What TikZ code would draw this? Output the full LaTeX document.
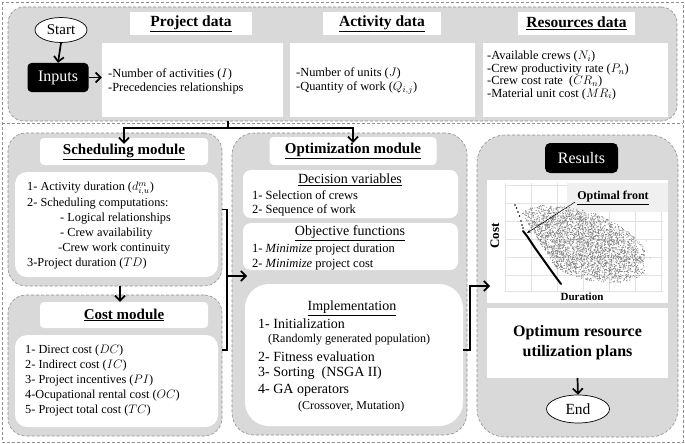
\documentclass[tikz,border=0pt]{standalone}
\usepackage{fix-cm}
\usepackage{fontspec}
\setmainfont{Liberation Serif}
\usetikzlibrary{shapes.geometric,arrows.meta,calc}
\definecolor{panelc}{HTML}{D9D9D9}
\definecolor{dashc}{HTML}{8E8E8E}
\definecolor{labelc}{HTML}{F0F0F0}
\definecolor{gridc}{HTML}{E2E2E2}
\definecolor{dotc}{HTML}{7A7A7A}
\begin{document}
\begin{tikzpicture}[x=1pt,y=-1pt,
  frame/.style={draw=dashc, line width=0.6pt, dash pattern=on 3pt off 2pt},
  panelbox/.style={frame, fill=panelc, rectangle, inner sep=0pt},
  wbox/.style={fill=white, draw=none, rectangle, inner sep=0pt},
  txt/.style={inner sep=0pt, align=left, anchor=west},
  lw/.style={line width=1.7pt},
  conn/.style={line width=1.7pt, -{Straight Barb[length=5pt,width=10pt]}},
  ttl/.style={font=\fontsize{15.5}{18}\selectfont\bfseries, inner sep=0pt},
  mttl/.style={font=\fontsize{15}{18}\selectfont\bfseries, inner sep=0pt},
]
\useasboundingbox (0,0) rectangle (685,444);
% outer frames
\draw[frame] (2,2) rectangle (683,442);
\draw[frame] (2,123) -- (683,123);

% ---------- top section ----------
\node[panelbox, rounded corners=16pt, minimum width=669pt, minimum height=114pt] (top) at (342.5,64) {};
\node[draw=black, line width=0.7pt, fill=white, ellipse, minimum width=52pt, minimum height=25pt, inner sep=0pt, font=\fontsize{15}{18}\selectfont] (start) at (61,30) {Start};
\node[fill=black, rounded corners=4pt, minimum width=61pt, minimum height=29pt, inner sep=0pt, text=white, font=\fontsize{16}{18}\selectfont] (inputs) at (58,77.5) {Inputs};

\node[wbox, minimum width=122pt, minimum height=23pt] (projT) at (191,23.5) {};
\node[ttl] (projTt) at (projT) {\underline{Project data}};
\node[wbox, minimum width=181pt, minimum height=74pt] (projC) at (192.5,80) {};
\node[txt, font=\fontsize{12.4}{14}\selectfont] (projCt) at (108,81) {-Number of activities ($I$)\\-Precedencies relationships};

\node[wbox, minimum width=118pt, minimum height=23pt] (actT) at (382,23.5) {};
\node[ttl] (actTt) at (actT) {\underline{Activity data}};
\node[wbox, minimum width=185pt, minimum height=74pt] (actC) at (382.5,80) {};
\node[txt, font=\fontsize{12.4}{14}\selectfont] (actCt) at (296,81) {-Number of units ($J$)\\-Quantity of work ($Q_{i,j}$)};

\node[wbox, minimum width=117pt, minimum height=23pt] (resT) at (576.5,23.5) {};
\node[ttl] (resTt) at (resT) {\underline{Resources data}};
\node[wbox, minimum width=185pt, minimum height=74pt] (resC) at (575.5,80) {};
\node[txt, font=\fontsize{12.4}{12.4}\selectfont] (resCt) at (487,75.5) {-Available crews ($N_i$)\\-Crew productivity rate ($P_n$)\\-Crew cost rate~ ($CR_n$)\\-Material unit cost ($MR_i$)};

\draw[conn] (start.south) -- (inputs.north);
\draw[conn] (inputs.east) -- (inputs.east -| projC.west);

% ---------- scheduling module ----------
\node[panelbox, rounded corners=18pt, minimum width=214pt, minimum height=153pt] (sched) at (115,209.5) {};
\node[wbox, rounded corners=4pt, minimum width=168pt, minimum height=27pt] (schedT) at (124,151.5) {};
\node[mttl] (schedTt) at (schedT) {\underline{Scheduling module}};
\node[wbox, rounded corners=12pt, minimum width=203pt, minimum height=105pt] (schedC) at (116.5,224.5) {};
\node[txt, font=\fontsize{12.3}{15}\selectfont] (schedCt) at (27,225.5) {1- Activity duration ($d^{m}_{i,u}$)\\[1pt]2- Scheduling computations:\\\hspace*{33pt}- Logical relationships\\\hspace*{33pt}- Crew availability\\\hspace*{31pt}-Crew work continuity\\3-Project duration ($TD$)};

% ---------- cost module ----------
\node[panelbox, rounded corners=18pt, minimum width=214pt, minimum height=141pt] (cost) at (115,365.5) {};
\node[wbox, rounded corners=4pt, minimum width=168pt, minimum height=26pt] (costT) at (124,315) {};
\node[mttl] (costTt) at (costT) {\underline{Cost module}};
\node[wbox, rounded corners=12pt, minimum width=203pt, minimum height=92pt] (costC) at (116.5,381) {};
\node[txt, font=\fontsize{12.3}{15}\selectfont] (costCt) at (25,381) {1- Direct cost ($DC$)\\2- Indirect cost ($IC$)\\3- Project incentives ($PI$)\\4-Ocupational rental cost ($OC$)\\5- Project total cost ($TC$)};

% ---------- optimization module ----------
\node[panelbox, rounded corners=22pt, minimum width=235pt, minimum height=302pt] (opt) at (349.5,284) {};
\node[wbox, rounded corners=4pt, minimum width=167pt, minimum height=28pt] (optT) at (353,151) {};
\node[mttl] (optTt) at (optT) {\underline{Optimization module}};
\node[wbox, rounded corners=8pt, minimum width=215pt, minimum height=48pt] (dec) at (350.5,194) {};
\node[inner sep=0pt, font=\fontsize{14}{16}\selectfont] (decT) at (350,180) {\underline{Decision variables}};
\node[txt, font=\fontsize{12.5}{14}\selectfont] (decTx) at (252,203) {1- Selection of crews\\2- Sequence of work};
\node[wbox, rounded corners=8pt, minimum width=215pt, minimum height=47pt] (obj) at (350.5,246.5) {};
\node[inner sep=0pt, font=\fontsize{14}{16}\selectfont] (objT) at (350,233) {\underline{Objective functions}};
\node[txt, font=\fontsize{12.5}{15}\selectfont] (objTx) at (252,256.5) {1- \textit{Minimize} project duration\\2- \textit{Minimize} project cost};
\node[wbox, rounded corners=24pt, minimum width=218pt, minimum height=142pt] (impl) at (354,355) {};
\node[inner sep=0pt, font=\fontsize{14}{16}\selectfont] (implT) at (352,308) {\underline{Implementation}};
\node[txt, font=\fontsize{14}{16}\selectfont] (im1) at (258,324) {1- Initialization};
\node[txt, font=\fontsize{12}{14}\selectfont] (im1b) at (268,340) {(Randomly generated population)};
\node[txt, font=\fontsize{14}{16}\selectfont] (im2) at (258,357) {2- Fitness evaluation};
\node[txt, font=\fontsize{14}{16}\selectfont] (im3) at (258,373) {3- Sorting~ (NSGA II)};
\node[txt, font=\fontsize{14}{16}\selectfont] (im4) at (258,390) {4- GA operators};
\node[txt, font=\fontsize{12}{14}\selectfont] (im4b) at (298,407) {(Crossover, Mutation)};

% ---------- results ----------
\node[panelbox, rounded corners=28pt, minimum width=201pt, minimum height=302pt] (res) at (577.5,286) {};
\node[fill=black, rounded corners=5pt, minimum width=73pt, minimum height=30pt, inner sep=0pt, text=white, font=\fontsize{16}{18}\selectfont] (results) at (581.5,158) {Results};
\node[wbox, minimum width=181pt, minimum height=123pt] (chart) at (577.5,241.5) {};
% grid
\foreach \gx in {505,531,557,583,609,635,661} \draw[gridc, line width=0.4pt] (\gx,183) -- (\gx,291);
\foreach \gy in {185,203,221,239,257,275,291} \draw[gridc, line width=0.4pt] (505,\gy) -- (663,\gy);
\fill[labelc] (567,183) rectangle (668,212);
% cloud of solutions
\pgfmathsetseed{11}
\foreach \i in {1,...,6500}{
  \pgfmathsetmacro\px{515+130*rnd}
  \pgfmathsetmacro\py{203+84*rnd}
  \pgfmathsetmacro\du{(\px-582)*0.94+(\py-244)*0.342}
  \pgfmathsetmacro\dv{-(\px-582)*0.342+(\py-244)*0.94}
  \pgfmathsetmacro\rr{(\du/70)^2+(\dv/33)^2}
  \pgfmathsetmacro\ok{(\rr<1)&&(\rr<0.45+rnd)&&((\px-517)-(\py-207)*0.6>1.5)}
  \ifdim\ok pt>0.5pt \fill[dotc] (\px,\py) circle (0.5pt);\fi
}
\foreach \ox/\oy in {643/250,637/262,650/258,628/266,646/241} \fill[dotc] (\ox,\oy) circle (0.5pt);
% optimal front
\foreach \fx/\fy in {515/205,516.5/208,518/212,519.5/216,521/221,522/225,523/228} \fill[black] (\fx,\fy) circle (0.9pt);
\draw[black, line width=2pt, line cap=round] (523,231) -- (527,236) -- (531,242) -- (535,248) -- (540,255) -- (545,262) -- (550,269) -- (555,276) -- (561,284);
\node[inner sep=0pt, font=\fontsize{12}{14}\selectfont\bfseries] (front) at (613,198) {\underline{Optimal front}};
\coordinate (fronttip) at (527,233);
\draw[line width=0.5pt, -{Stealth[length=4pt,width=3pt]}] (front.west) ++(-2,4) -- (fronttip);
\node[inner sep=0pt, rotate=90, font=\fontsize{13}{14}\selectfont\bfseries] (costlab) at (495,236) {Cost};
\node[inner sep=0pt, font=\fontsize{11}{12}\selectfont\bfseries] (durlab) at (582,297) {Duration};

\node[wbox, minimum width=181pt, minimum height=70pt, align=center, font=\fontsize{16}{20}\selectfont\bfseries] (plans) at (577.5,343) {Optimum resource\\utilization plans};
\node[draw=black, line width=0.7pt, fill=white, ellipse, minimum width=63pt, minimum height=28pt, inner sep=0pt, font=\fontsize{15.5}{18}\selectfont] (end) at (578,409) {End};

% ---------- connectors ----------
\coordinate (split) at (228,121);
\coordinate (bar) at (228,128);
\draw[lw] (split) -- (bar);
\draw[conn] (bar) -| ([yshift=-6pt]schedT.north);
\draw[conn] (bar) -| ([yshift=-6pt]optT.north);
\draw[conn] (sched.south -| 120,0) -- (costT.north -| 120,0);
\coordinate (costtap) at (222,350);
\coordinate (optin) at (247,276);
\draw[lw] (sched.east) -| (227,350) -- (costtap);
\draw[conn] (227,276) -- (optin);
\coordinate (impltap) at (463,350);
\draw[conn] (impltap) -- (470,350) |- (490,286);
\draw[conn] (plans.south) -- (end.north);
\end{tikzpicture}
\end{document}
